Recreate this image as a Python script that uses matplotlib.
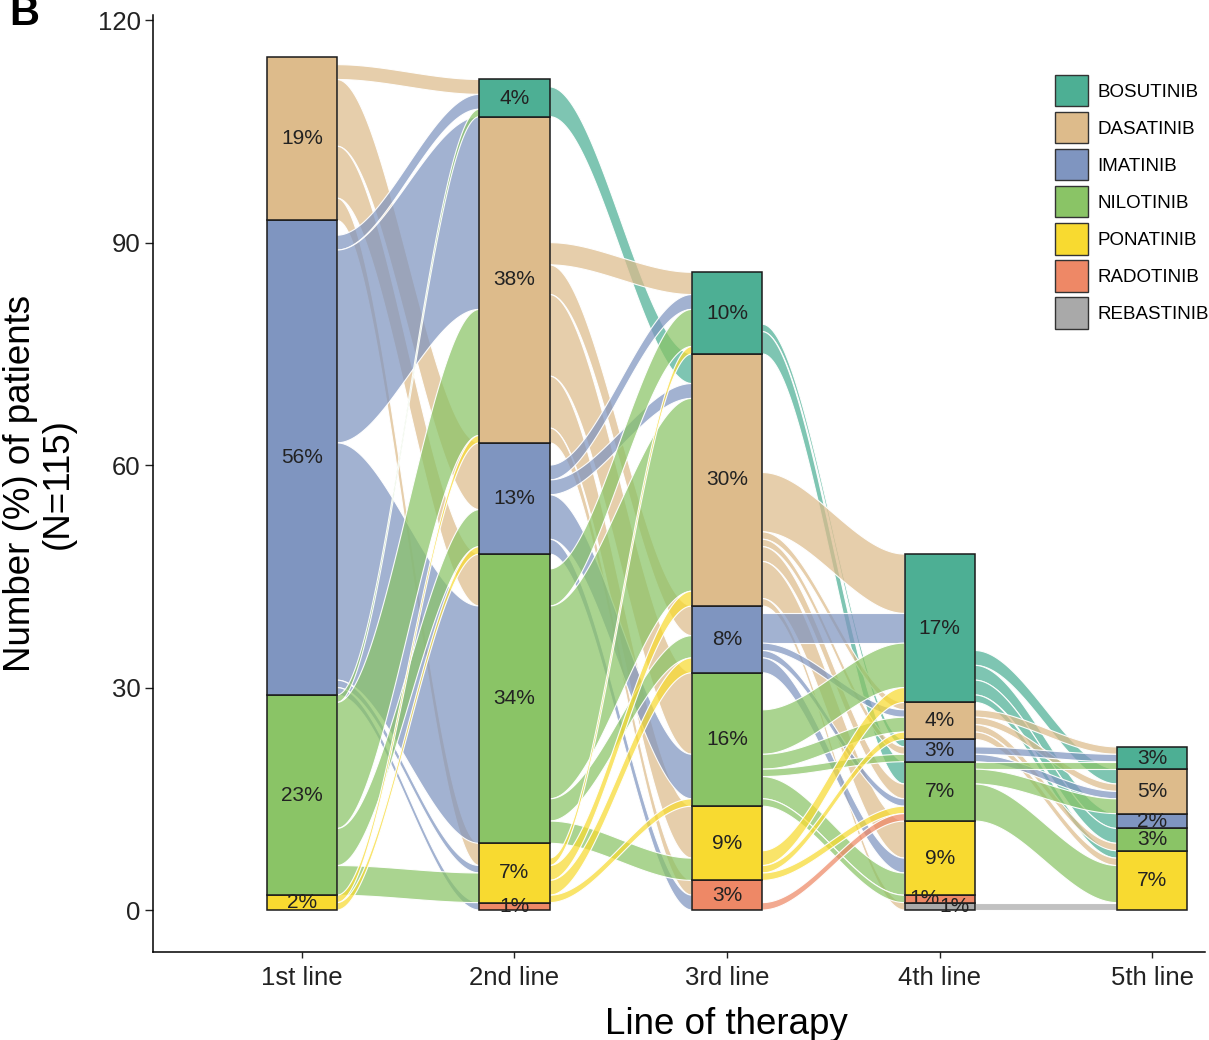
import numpy as np
import matplotlib.pyplot as plt
from matplotlib.colors import to_rgb
from matplotlib.patches import Rectangle, Patch, Polygon

plt.rcParams['font.family'] = ['Liberation Sans', 'DejaVu Sans']

DRUGS = ['BOSUTINIB', 'DASATINIB', 'IMATINIB', 'NILOTINIB',
         'PONATINIB', 'RADOTINIB', 'REBASTINIB']
COLORS = ['#4DAF94', '#DDBB8B', '#7F95C0', '#8AC466',
          '#F8DA30', '#EE8866', '#A9A9A9']
LINES = ['1st line', '2nd line', '3rd line', '4th line', '5th line']
N_TOTAL = 115

# patients on each drug at each line of therapy (order as DRUGS)
line1 = [0, 22, 64, 27, 2, 0, 0]
line2 = [5, 44, 15, 39, 8, 1, 0]
line3 = [11, 34, 9, 18, 10, 4, 0]
line4 = [20, 5, 3, 8, 10, 1, 1]
line5 = [3, 6, 2, 3, 8, 0, 0]

# switches: rows = drug at line k, columns = drug at line k+1
flow_1_2 = [[0, 0, 0, 0, 0, 0, 0],
            [2, 0, 9, 7, 3, 0, 0],
            [2, 26, 0, 32, 1, 1, 0],
            [1, 17, 5, 0, 4, 0, 0],
            [0, 1, 1, 0, 0, 0, 0],
            [0, 0, 0, 0, 0, 0, 0],
            [0, 0, 0, 0, 0, 0, 0]]
flow_2_3 = [[0, 4, 0, 0, 0, 0, 0],
            [3, 0, 4, 11, 7, 2, 0],
            [2, 2, 0, 6, 0, 2, 0],
            [5, 26, 3, 0, 3, 0, 0],
            [1, 2, 2, 1, 0, 0, 0],
            [0, 0, 0, 0, 0, 0, 0],
            [0, 0, 0, 0, 0, 0, 0]]
flow_3_4 = [[0, 0, 1, 3, 0, 0, 0],
            [8, 1, 1, 2, 5, 0, 1],
            [4, 1, 0, 1, 2, 0, 0],
            [6, 2, 1, 0, 3, 1, 0],
            [2, 1, 0, 1, 0, 0, 0],
            [0, 0, 0, 1, 0, 0, 0],
            [0, 0, 0, 0, 0, 0, 0]]
flow_4_5 = [[0, 2, 2, 2, 1, 0, 0],
            [1, 1, 0, 1, 1, 0, 0],
            [1, 1, 0, 0, 0, 0, 0],
            [1, 2, 0, 0, 5, 0, 0],
            [0, 0, 0, 0, 0, 0, 0],
            [0, 0, 0, 0, 0, 0, 0],
            [0, 0, 0, 0, 1, 0, 0]]

strata = [line1, line2, line3, line4, line5]
flows = [flow_1_2, flow_2_3, flow_3_4, flow_4_5]

BAR_W = 0.33


def bottoms(counts):
    """Stack from the bottom: last drug lowest, first drug on top."""
    c = np.array(counts, dtype=float)
    return np.array([c[i + 1:].sum() for i in range(len(c))])


fig = plt.figure(figsize=(12.09, 10.4), dpi=100)
ax = fig.add_axes([0.1266, 0.0846, 0.8704, 0.901])

# flows between consecutive lines
t = np.linspace(0, 1, 80)
s = 3 * t**2 - 2 * t**3
for k, fm in enumerate(flows):
    fm = np.array(fm)
    b0 = bottoms(strata[k])
    b1 = bottoms(strata[k + 1])
    x0, x1 = k + BAR_W / 2, k + 1 - BAR_W / 2
    xs = x0 + (x1 - x0) * t
    segs = {}
    # outgoing: bottom-aligned in the source stratum, top target first
    for i in range(len(DRUGS)):
        y = b0[i] + fm[i].sum()
        for j in range(len(DRUGS)):
            if fm[i, j]:
                segs[(i, j)] = [y, y - fm[i, j]]
                y -= fm[i, j]
    # incoming: top source first
    for j in range(len(DRUGS)):
        y = b1[j] + fm[:, j].sum()
        for i in range(len(DRUGS)):
            if fm[i, j]:
                segs[(i, j)] += [y, y - fm[i, j]]
                y -= fm[i, j]
    for (i, j), (a_top, a_bot, b_top, b_bot) in segs.items():
        top = a_top + (b_top - a_top) * s
        bot = a_bot + (b_bot - a_bot) * s
        verts = np.vstack([np.column_stack([xs, top]),
                           np.column_stack([xs[::-1], bot[::-1]])])
        ax.add_patch(Polygon(verts, closed=True,
                             facecolor=(*to_rgb(COLORS[i]), 0.72),
                             edgecolor=(1, 1, 1, 0.95), linewidth=0.8,
                             zorder=1))

# strata boxes and percentage labels
for k, counts in enumerate(strata):
    b = bottoms(counts)
    prev_tiny = False
    for i in range(len(DRUGS) - 1, -1, -1):
        c = counts[i]
        if c == 0:
            prev_tiny = False
            continue
        ax.add_patch(Rectangle((k - BAR_W / 2, b[i]), BAR_W, c,
                               facecolor=COLORS[i], edgecolor='#1a1a1a',
                               linewidth=1.1, zorder=2))
        dx = 0
        if c == 1 and prev_tiny:
            dx = -0.07
        elif c == 1 and i > 0 and counts[i - 1] == 1:
            dx = 0.07
        prev_tiny = c == 1
        ax.text(k + dx, b[i] + c / 2, f'{round(100 * c / N_TOTAL)}%',
                ha='center', va='center', fontsize=15, color='#222222',
                zorder=3)

ax.set_xlim(-0.70, 4.25)
ax.set_ylim(-5.66, 120.7)
ax.set_xticks(range(len(LINES)))
ax.set_xticklabels(LINES)
ax.set_yticks([0, 30, 60, 90, 120])
ax.tick_params(labelsize=18.5, width=1, colors='#222222')
ax.tick_params(axis='x', length=4, pad=6)
ax.tick_params(axis='y', length=6, pad=3)
for side in ['top', 'right']:
    ax.spines[side].set_visible(False)
for side in ['left', 'bottom']:
    ax.spines[side].set_linewidth(1.1)
ax.set_xlabel('Line of therapy', fontsize=26.5, labelpad=12, x=0.5446)
ax.set_ylabel('Number (%) of patients\n(N=115)', fontsize=26.5,
              labelpad=16, linespacing=1.1)

handles = [Patch(facecolor=c, edgecolor='#333333', linewidth=1.0)
           for c in COLORS]
fig.legend(handles, DRUGS, loc='upper left',
           bbox_to_anchor=(0.8726, 0.9279), frameon=False, fontsize=13.5,
           handlelength=1.75, handleheight=2.2, labelspacing=0.3,
           handletextpad=0.5, borderpad=0, borderaxespad=0)

fig.text(0.008, 0.976, 'B', fontsize=30, fontweight='bold', va='baseline')

fig.savefig('out.png', dpi=100)
